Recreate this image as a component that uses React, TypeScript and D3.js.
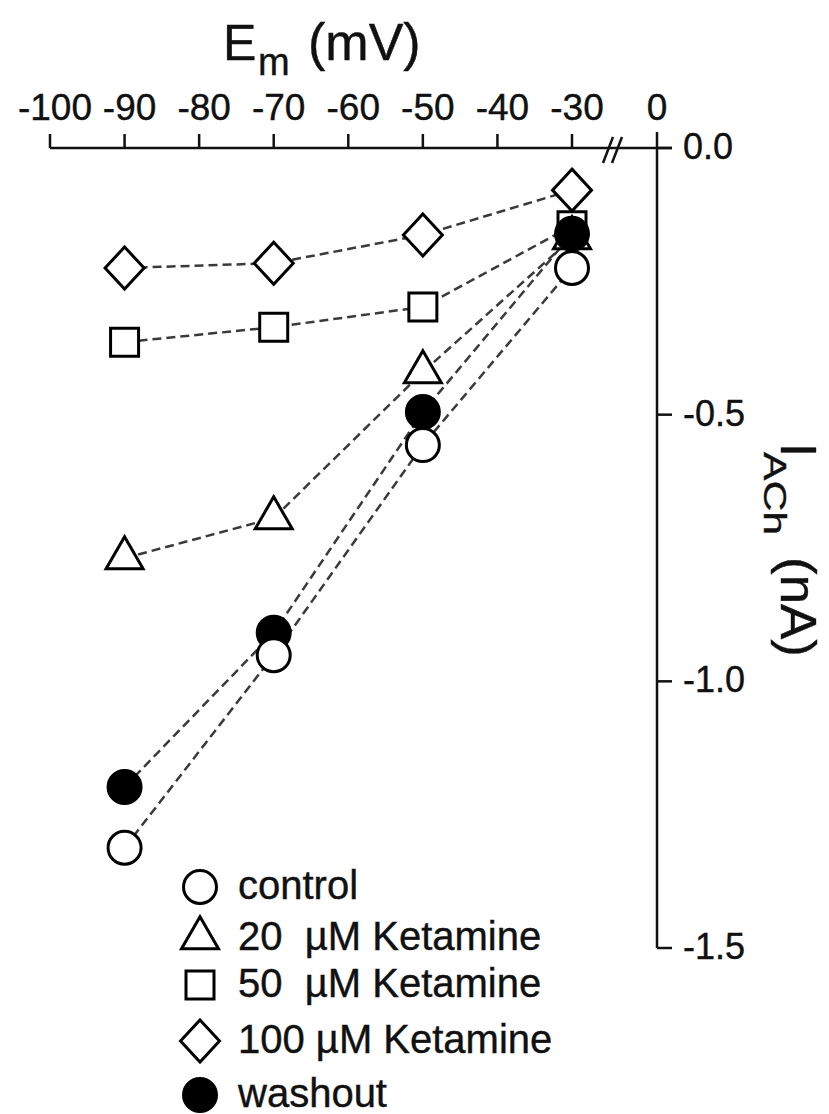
import React from "react";
import * as d3 from "d3";

const voltages = [-90, -70, -50, -30];
const controlI = [-1.312, -0.951, -0.557, -0.225];
const keta20I = [-0.769, -0.694, -0.42, -0.169];
const keta50I = [-0.364, -0.336, -0.298, -0.146];
const keta100I = [-0.225, -0.216, -0.163, -0.079];
const washoutI = [-1.198, -0.909, -0.495, -0.161];
const xTicks = [-100, -90, -80, -70, -60, -50, -40, -30];
const yTicks = [0, -0.5, -1.0, -1.5];
const legendLabels = [
  "control",
  "20\u00a0\u00a0\u00b5M Ketamine",
  "50\u00a0\u00a0\u00b5M Ketamine",
  "100\u00a0\u00b5M Ketamine",
  "washout",
];

const W = 829;
const H = 1114;
const FONT = "'Liberation Sans', Arial, Helvetica, sans-serif";
const INK = "#111";

const xScale = d3.scaleLinear().domain([-100, -30]).range([50, 572]);
const xZero = 657;
const yScale = d3.scaleLinear().domain([0, -1.5]).range([148, 948]);

type Shape = "circle" | "triangle" | "square" | "diamond" | "filled";

function shapePath(shape: Shape): string {
  if (shape === "triangle") {
    const w = 37, h = 32;
    return `M0,${-2 * h / 3}L${w / 2},${h / 3}L${-w / 2},${h / 3}Z`;
  }
  if (shape === "square") {
    const s = 14;
    return `M${-s},${-s}H${s}V${s}H${-s}Z`;
  }
  if (shape === "diamond") {
    const a = 19.5, b = 21;
    return `M0,${-b}L${a},0L0,${b}L${-a},0Z`;
  }
  return d3.symbol().type(d3.symbolCircle).size(Math.PI * 16.5 * 16.5)() as string;
}

const series: { name: string; values: number[]; shape: Shape }[] = [
  { name: "k50", values: keta50I, shape: "square" },
  { name: "k20", values: keta20I, shape: "triangle" },
  { name: "washout", values: washoutI, shape: "filled" },
  { name: "control", values: controlI, shape: "circle" },
  { name: "k100", values: keta100I, shape: "diamond" },
];

const legendShapes: Shape[] = ["circle", "triangle", "square", "diamond", "filled"];
const legendY = [887, 938, 985, 1041, 1095];

function Marker({ shape, x, y }: { shape: Shape; x: number; y: number }) {
  const filled = shape === "filled";
  return (
    <path
      d={shapePath(shape)}
      transform={`translate(${x},${y})`}
      fill={filled ? "#000" : "#fff"}
      stroke="#000"
      strokeWidth={3}
    />
  );
}

export default function App() {
  const line = d3
    .line<number>()
    .x((_, i) => xScale(voltages[i]))
    .y((d) => yScale(d));

  const axisY = yScale(0);

  return (
    <svg
      width={W}
      height={H}
      viewBox={`0 0 ${W} ${H}`}
      style={{ position: "absolute", left: 0, top: 0, background: "#fff" }}
      fontFamily={FONT}
    >
      <rect x={0} y={0} width={W} height={H} fill="#fff" />
      <g fill={INK} stroke={INK} strokeWidth={0.4}>
        {/* Title */}
        <text x={223} y={60} fontSize={50}>E</text>
        <text x={258} y={75} fontSize={38}>m</text>
        <text x={308} y={60} fontSize={52}>(mV)</text>

        {xTicks.map((t) => (
          <text key={t} x={xScale(t) + 5} y={120} fontSize={37} textAnchor="middle">
            {String(t)}
          </text>
        ))}
        <text x={xZero} y={120} fontSize={37} textAnchor="middle">0</text>

        {yTicks.map((t) => (
          <text key={t} x={683} y={yScale(t) + 11} fontSize={36}>
            {d3.format(".1f")(t).replace("\u2212", "-")}
          </text>
        ))}

        {/* Y label rotated */}
        <g transform="translate(781,443) rotate(90)">
          <text x={0} y={0} fontSize={50}>I</text>
          <text x={9} y={17} fontSize={31} textLength={83} lengthAdjust="spacingAndGlyphs">ACh</text>
          <text x={114} y={0} fontSize={50} textLength={100} lengthAdjust="spacingAndGlyphs">(nA)</text>
        </g>

        {legendLabels.map((l, i) => (
          <text key={l} x={238} y={legendY[i] + 12} fontSize={40}>
            {l}
          </text>
        ))}
      </g>

      {/* X axis (top) */}
      <line x1={xScale(-100)} x2={672} y1={axisY} y2={axisY} stroke={INK} strokeWidth={2.5} />
      {xTicks.map((t) => (
        <line key={t} x1={xScale(t)} x2={xScale(t)} y1={axisY} y2={axisY - 14} stroke={INK} strokeWidth={2.5} />
      ))}
      <line x1={xZero} x2={xZero} y1={axisY} y2={axisY - 16} stroke={INK} strokeWidth={2.5} />
      {/* axis break */}
      <line x1={603} y1={163} x2={613} y2={137} stroke={INK} strokeWidth={2.5} />
      <line x1={612} y1={163} x2={622} y2={137} stroke={INK} strokeWidth={2.5} />

      {/* Y axis (right) */}
      <line x1={xZero} x2={xZero} y1={axisY} y2={yScale(-1.5)} stroke={INK} strokeWidth={2.5} />
      {yTicks.map((t) => (
        <line key={t} x1={xZero} x2={672} y1={yScale(t)} y2={yScale(t)} stroke={INK} strokeWidth={2.5} />
      ))}

      {/* dashed lines */}
      {series.map((s) => (
        <path
          key={"l" + s.name}
          d={line(s.values) as string}
          fill="none"
          stroke="#3a3a3a"
          strokeWidth={2.5}
          strokeDasharray="9,5"
        />
      ))}
      {/* markers */}
      {series.map((s) =>
        s.values.map((v, i) => (
          <Marker key={s.name + i} shape={s.shape} x={xScale(voltages[i])} y={yScale(v)} />
        ))
      )}

      {/* legend symbols */}
      {legendShapes.map((sh, i) => (
        <Marker key={sh} shape={sh} x={200} y={legendY[i]} />
      ))}
    </svg>
  );
}
